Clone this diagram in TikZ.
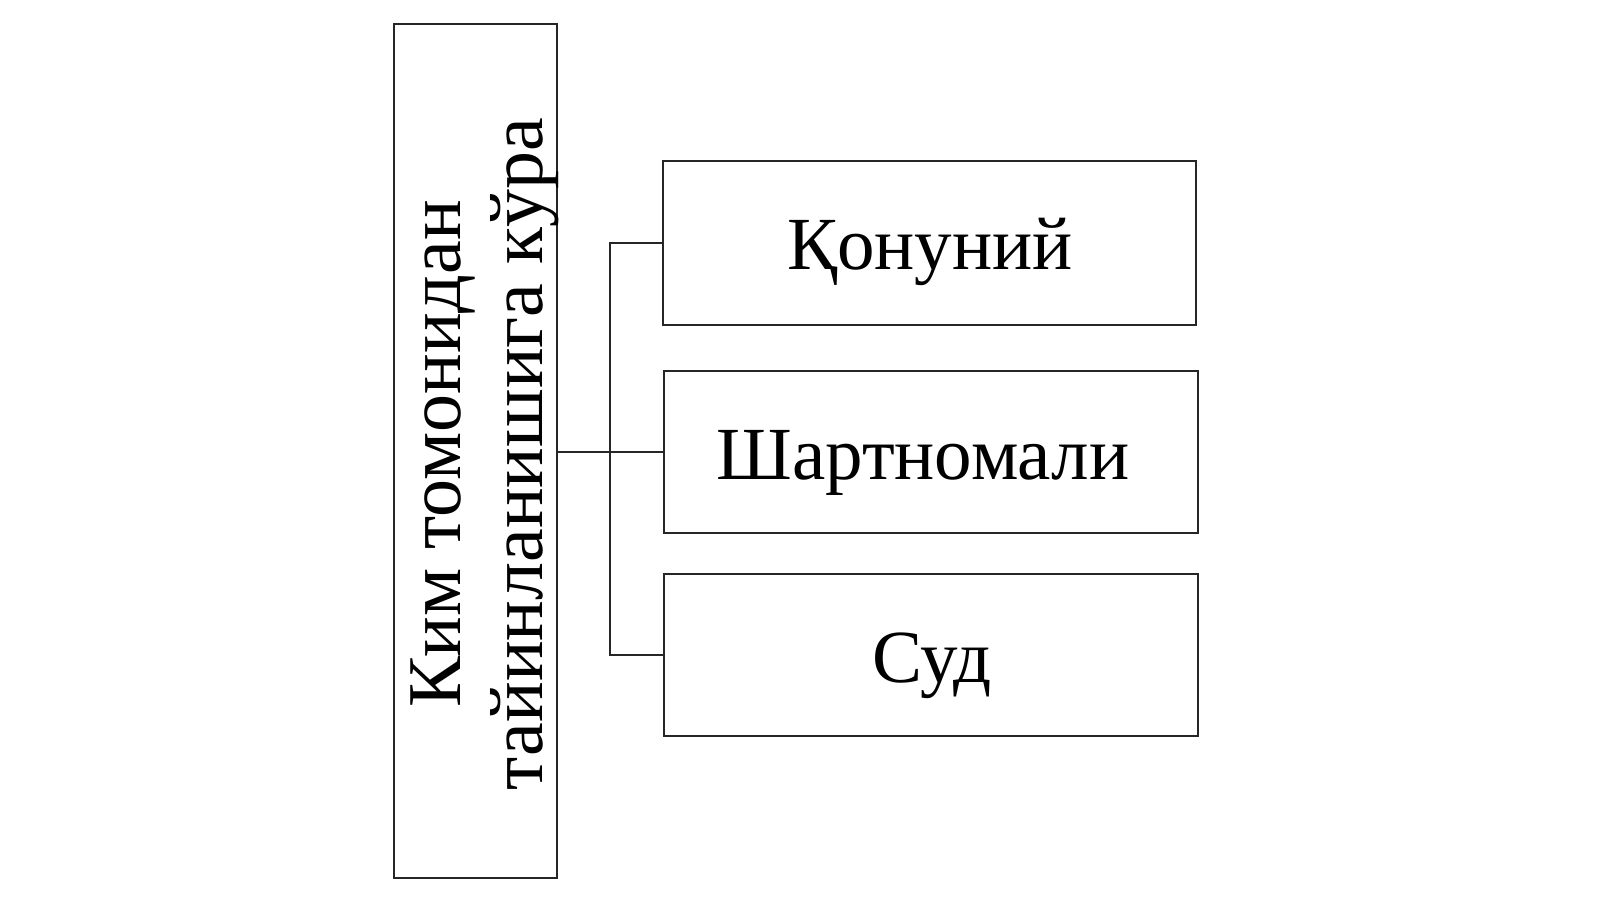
\documentclass[tikz,border=0pt]{standalone}
\usepackage{fontspec}
\setmainfont{Liberation Serif}
\begin{document}
\begin{tikzpicture}[x=1pt,y=-1pt,
  boxst/.style={draw=black!85,line width=2pt,inner sep=0pt,outer sep=0pt,rectangle},
  lbl/.style={font=\fontsize{75}{86}\selectfont,anchor=base,inner sep=0pt},
  conn/.style={draw=black!85,line width=2pt}]
\useasboundingbox[fill=white] (0,0) rectangle (1600,899);
\node[boxst,minimum width=163pt,minimum height=854pt] (L) at (475.5,451) {};
\node[boxst,minimum width=533pt,minimum height=164pt] (A) at (929.5,243) {};
\node[boxst,minimum width=534pt,minimum height=162pt] (B) at (931,452) {};
\node[boxst,minimum width=534pt,minimum height=162pt] (C) at (931,655) {};
\node[lbl] (tA) at (930,269) {Қонуний};
\node[lbl] (tB) at (923,479) {Шартномали};
\node[lbl] (tC) at (932,682) {Суд};
\node[rotate=90,align=center,inner sep=0pt,font=\fontsize{76}{82}\selectfont] (tL) at (485,454) {Ким томонидан\\тайинланишига кўра};
\coordinate (J) at (610,452);
\draw[conn] (L.east |- B.west) -- (B.west);
\draw[conn] (A.west) -| (J) |- (C.west);
\end{tikzpicture}
\end{document}
